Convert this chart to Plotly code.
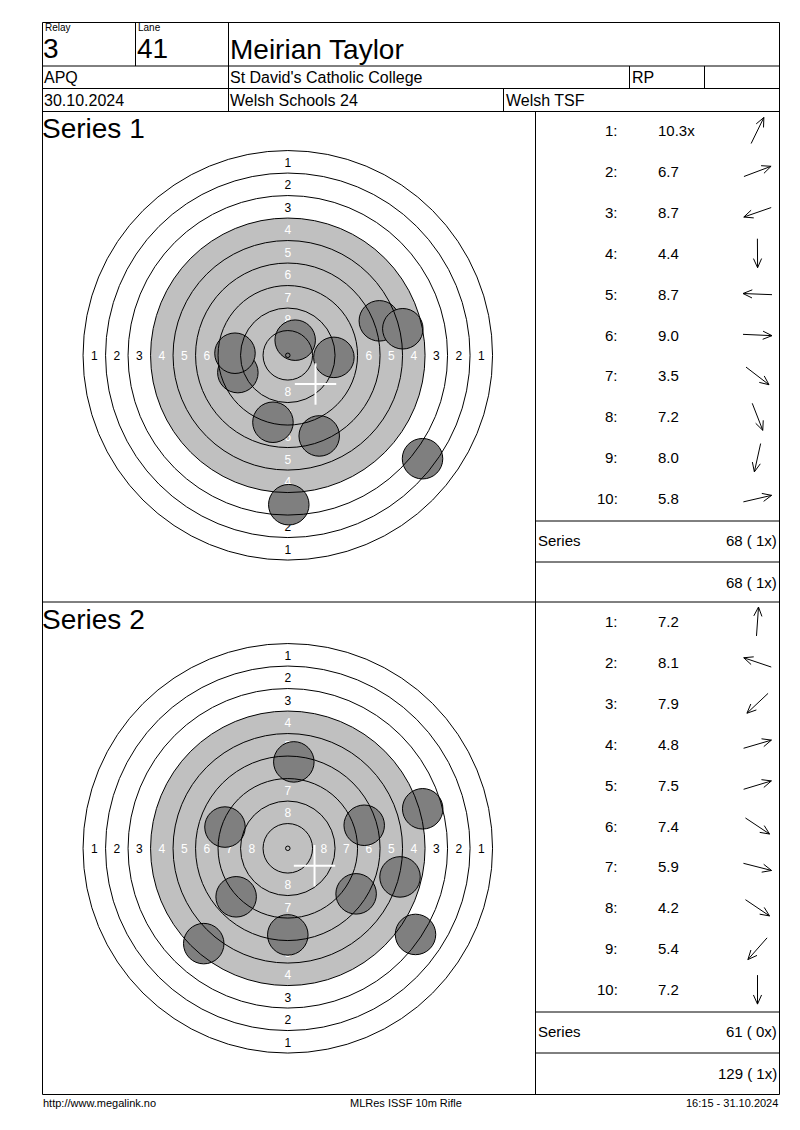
import math
import plotly.graph_objects as go

W, H = 800, 1130
FONT = "Liberation Sans, Arial, sans-serif"

# ---------------- data ----------------
relay = "3"
lane = "41"
shooter = "Meirian Taylor"
club_code = "APQ"
club = "St David's Catholic College"
shooter_class = "RP"
date_text = "30.10.2024"
event_name = "Welsh Schools 24"
organiser = "Welsh TSF"
footer_left = "http://www.megalink.no"
footer_mid = "MLRes ISSF 10m Rifle"
footer_right = "16:15 - 31.10.2024"

series_names = ["Series 1", "Series 2"]

# shot scores and positions (mm, x right, y up) read from the targets
s1_scores = ["10.3x", "6.7", "8.7", "4.4", "8.7", "9.0", "3.5", "7.2", "8.0", "5.8"]
s1_x = [0.82, 10.17, -5.55, 0.11, -5.87, 5.12, 14.97, 3.49, -1.65, 12.78]
s1_y = [1.68, 3.83, -1.92, -16.60, 0.23, -0.23, -11.49, -8.96, -7.44, 2.95]
s1_mpi = [3.08, -3.19]

s2_scores = ["7.2", "8.1", "7.9", "4.8", "7.5", "7.4", "5.9", "4.2", "5.4", "7.2"]
s2_x = [0.67, -6.98, -5.74, 14.99, 8.49, 7.59, 12.47, 14.19, -9.34, 0.00]
s2_y = [9.60, 2.36, -5.39, 4.39, 2.56, -5.06, -3.18, -9.57, -10.59, -9.62]
s2_mpi = [2.97, -1.93]

# ISSF 10m air rifle target (radii in mm)
ring_radii = [22.75, 20.25, 17.75, 15.25, 12.75, 10.25, 7.75, 5.25, 2.75, 0.25]
black_radius = 15.25
pellet_radius = 2.25
ring_label_values = [1, 2, 3, 4, 5, 6, 7, 8]

# ---------------- helpers ----------------
def px(x):
    return x / W


def py(y):
    return 1 - y / H


shapes = []
annotations = []


def hline(y, x0, x1, w=1):
    shapes.append(dict(type="line", xref="paper", yref="paper", x0=px(x0), x1=px(x1),
                       y0=py(y), y1=py(y), line=dict(color="black", width=w), layer="above"))


def vline(x, y0, y1, w=1):
    shapes.append(dict(type="line", xref="paper", yref="paper", x0=px(x), x1=px(x),
                       y0=py(y0), y1=py(y1), line=dict(color="black", width=w), layer="above"))


def text(x, y, s, size, anchor="left", color="black"):
    annotations.append(dict(xref="paper", yref="paper", x=px(x), y=py(y), text=s,
                            showarrow=False, xanchor=anchor, yanchor="middle",
                            font=dict(family=FONT, size=size, color=color), borderpad=0))


def int_score(s):
    return int(float(s.rstrip("x")))


# ---------------- frame / header ----------------
L, R, T, B = 42.5, 779.5, 22.5, 1094.5
DIV = 535.5
hline(T, L, R)
hline(66, L, R)
hline(88.5, L, R)
hline(111.5, L, R)
hline(602, L, R)
hline(B, L, R)
vline(L, T, B)
vline(R, T, B)
vline(135.5, T, 66)
vline(228.5, T, 111.5)
vline(629.5, 66, 88.5)
vline(704.5, 66, 88.5)
vline(503.5, 88.5, 111.5)
vline(DIV, 111.5, B)
for base in [0, 491]:
    hline(521 + base, DIV, R)
    hline(562 + base, DIV, R)

text(44, 27.5, "Relay", 10)
text(137, 27.5, "Lane", 10)
text(42, 49, relay, 28)
text(136, 49, lane, 28)
text(229, 50, shooter, 28)
text(43, 77.5, club_code, 16)
text(229, 77.5, club, 16)
text(631, 77.5, shooter_class, 16)
text(43, 100.5, date_text, 16)
text(229, 100.5, event_name, 16)
text(505, 100.5, organiser, 16)

text(42, 1102.5, footer_left, 11)
text(406, 1102.5, footer_mid, 11, anchor="center")
text(779, 1102.5, footer_right, 11, anchor="right")

# ---------------- figure ----------------
fig = go.Figure()

series = [
    (s1_scores, s1_x, s1_y, s1_mpi, 355.3),
    (s2_scores, s2_x, s2_y, s2_mpi, 848.3),
]
SCALE = 9.0
HALF = 25.0
CX = 287.8
LABEL_DY = -0.2  # small optical offset of ring numbers (mm)
arrow_x, arrow_y = [], []
cumulative = 0
cum_x = 0
for k, (scores, xs, ys, mpi, cy) in enumerate(series):
    xa = "x" if k == 0 else "x2"
    ya = "y" if k == 0 else "y2"
    base = 491 * k
    half_px = HALF * SCALE
    fig.update_layout(**{
        ("xaxis" if k == 0 else "xaxis2"): dict(domain=[px(CX - half_px), px(CX + half_px)],
                                               range=[-HALF, HALF], visible=False, fixedrange=True,
                                               anchor=ya),
        ("yaxis" if k == 0 else "yaxis2"): dict(domain=[py(cy + half_px), py(cy - half_px)],
                                               range=[-HALF, HALF], visible=False, fixedrange=True,
                                               anchor=xa),
    })
    # grey aiming mark
    shapes.append(dict(type="circle", xref=xa, yref=ya, x0=-black_radius, x1=black_radius,
                       y0=-black_radius, y1=black_radius, fillcolor="#c0c0c0",
                       line=dict(width=0), layer="below"))
    # ring numbers
    lx, ly, lt, lc = [], [], [], []
    for i, v in enumerate(ring_label_values):
        r = (ring_radii[i] + ring_radii[i + 1]) / 2
        col = "white" if ring_radii[i] <= black_radius else "black"
        for dx, dy in [(0, 1), (0, -1), (1, 0), (-1, 0)]:
            lx.append(dx * r)
            ly.append(dy * r + LABEL_DY)
            lt.append(str(v))
            lc.append(col)
    fig.add_trace(go.Scatter(x=lx, y=ly, text=lt, mode="text", xaxis=xa, yaxis=ya,
                             textfont=dict(family=FONT, size=12, color=lc),
                             hoverinfo="skip", showlegend=False))
    # shots
    for sx, sy in zip(xs, ys):
        shapes.append(dict(type="circle", xref=xa, yref=ya, x0=sx - pellet_radius,
                           x1=sx + pellet_radius, y0=sy - pellet_radius, y1=sy + pellet_radius,
                           fillcolor="#7f7f7f", line=dict(color="black", width=1), layer="above"))
    # ring lines
    for r in ring_radii:
        shapes.append(dict(type="circle", xref=xa, yref=ya, x0=-r, x1=r, y0=-r, y1=r,
                           line=dict(color="black", width=1), layer="above"))
    # mean point of impact
    arm = 2.3
    shapes.append(dict(type="line", xref=xa, yref=ya, x0=mpi[0] - arm, x1=mpi[0] + arm,
                       y0=mpi[1], y1=mpi[1], line=dict(color="white", width=2), layer="above"))
    shapes.append(dict(type="line", xref=xa, yref=ya, x0=mpi[0], x1=mpi[0],
                       y0=mpi[1] - arm, y1=mpi[1] + arm, line=dict(color="white", width=2),
                       layer="above"))
    # titles and score list
    text(41, 128 + base, series_names[k], 28)
    for i, (s, sx, sy) in enumerate(zip(scores, xs, ys)):
        ry = 130.5 + 40.9 * i + base
        text(619, ry, f"{i + 1}:", 15, anchor="right")
        text(657, ry, s, 15)
        th = math.atan2(sy, sx)
        dxp, dyp = math.cos(th), -math.sin(th)
        cxp, Lh = 757.5, 14.5
        hx, hy = cxp + Lh * dxp, ry + Lh * dyp
        tx, tyy = cxp - Lh * dxp, ry - Lh * dyp
        arrow_x += [tx, hx, None]
        arrow_y += [tyy, hy, None]
        for sgn in (1, -1):
            a = th + math.pi + sgn * math.radians(24)
            arrow_x += [hx, hx + 10 * math.cos(a), None]
            arrow_y += [hy, hy - 10 * math.sin(a), None]
    total = sum(int_score(s) for s in scores)
    xs_count = sum(1 for s in scores if s.endswith("x"))
    cumulative += total
    cum_x += xs_count
    text(537, 540.5 + base, "Series", 15)
    text(778, 540.5 + base, f"{total} ( {xs_count}x)", 15, anchor="right")
    text(778, 582 + base, f"{cumulative} ( {cum_x}x)", 15, anchor="right")

fig.add_trace(go.Scatter(x=arrow_x, y=arrow_y, mode="lines", xaxis="x3", yaxis="y3",
                         line=dict(color="black", width=1), hoverinfo="skip", showlegend=False))

fig.update_layout(
    width=W, height=H,
    margin=dict(l=0, r=0, t=0, b=0),
    paper_bgcolor="white",
    plot_bgcolor="rgba(0,0,0,0)",
    showlegend=False,
    xaxis3=dict(domain=[0, 1], range=[0, W], visible=False, fixedrange=True, anchor="y3"),
    yaxis3=dict(domain=[0, 1], range=[H, 0], visible=False, fixedrange=True, anchor="x3"),
    shapes=shapes,
    annotations=annotations,
)

fig.write_html("out.html", config={"displayModeBar": False},
               post_script="document.body.style.margin='0';document.body.style.overflow='hidden';")
